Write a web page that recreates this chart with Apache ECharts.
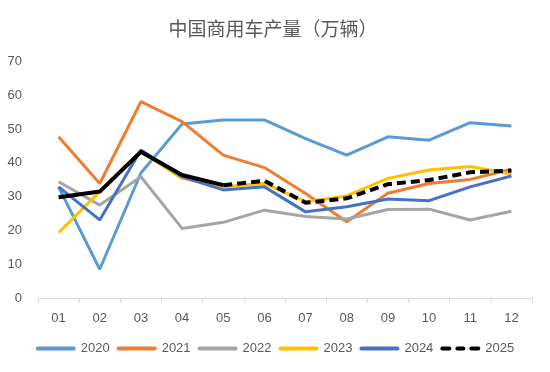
<!DOCTYPE html>
<html><head><meta charset="utf-8">
<script src="https://cdn.jsdelivr.net/npm/echarts@6/dist/echarts.min.js"></script>
<style>html,body{margin:0;padding:0;background:#fff}#c{width:550px;height:372px}</style>
</head><body><div id="c"></div>
<script>
var months = ['01','02','03','04','05','06','07','08','09','10','11','12'];
var s2020 = [32.9, 8.5, 37.0, 51.5, 52.7, 52.7, 47.2, 42.3, 47.7, 46.7, 51.9, 50.9];
var s2021 = [47.7, 33.9, 58.1, 52.2, 42.3, 38.6, 30.9, 22.6, 31.0, 33.9, 35.1, 38.1];
var s2022 = [34.4, 27.5, 35.9, 20.6, 22.4, 26.0, 24.1, 23.4, 26.2, 26.3, 23.1, 25.7];
var s2023 = [19.3, 31.5, 43.3, 35.4, 32.9, 33.9, 28.5, 30.2, 35.4, 37.9, 38.9, 36.6];
var s2024 = [32.9, 23.1, 43.8, 35.9, 32.0, 32.9, 25.5, 27.0, 29.3, 28.8, 32.9, 36.1];
var s2025Actual = [29.8, 31.5, 43.3, 36.4, 33.4, null, null, null, null, null, null, null];
var s2025Forecast = [null, null, null, null, 33.4, 34.7, 28.2, 29.5, 33.7, 34.9, 37.2, 37.7];
var yTicks = [0, 10, 20, 30, 40, 50, 60, 70];

function line(name, data, color, width, dashed) {
  return {
    name: name, type: 'line', data: data, showSymbol: false, symbol: 'none',
    lineStyle: {color: color, width: width, type: dashed ? [9, 5] : 'solid', cap: 'butt'},
    itemStyle: {color: color}, connectNulls: false, animation: false
  };
}
var solidIcon = 'path://M2,0h36a2,2 0 0 1 0,4h-36a2,2 0 0 1 0,-4z';
var dashIcon = 'path://M2,0h7a2,2 0 0 1 0,4h-7a2,2 0 0 1 0,-4z M17,0h6a2,2 0 0 1 0,4h-6a2,2 0 0 1 0,-4z M31,0h7a2,2 0 0 1 0,4h-7a2,2 0 0 1 0,-4z';
var chart = echarts.init(document.getElementById('c'));
chart.setOption({
  animation: false,
  title: {text: '中国商用车产量（万辆）', left: 268, top: 14, textAlign: 'center',
    textStyle: {fontFamily: 'Noto Sans CJK SC', fontSize: 19, fontWeight: 'normal', color: '#595959'}},
  grid: {left: 38, right: 18, top: 61.5, bottom: 74},
  legend: {
    bottom: 12, left: 'center', itemWidth: 40, itemHeight: 4, itemGap: 7,
    textStyle: {fontFamily: 'Liberation Sans', fontSize: 13, color: '#595959'},
    data: [
      {name: '2020', icon: solidIcon},
      {name: '2021', icon: solidIcon},
      {name: '2022', icon: solidIcon},
      {name: '2023', icon: solidIcon},
      {name: '2024', icon: solidIcon},
      {name: '2025', icon: dashIcon}
    ]
  },
  xAxis: {
    type: 'category', data: months, boundaryGap: true,
    axisLine: {lineStyle: {color: '#d9d9d9', width: 1}},
    axisTick: {show: true, length: 5, lineStyle: {color: '#d9d9d9'}},
    axisLabel: {color: '#595959', fontSize: 13, fontFamily: 'Liberation Sans', margin: 14}
  },
  yAxis: {
    type: 'value', min: yTicks[0], max: yTicks[yTicks.length - 1], interval: 10,
    axisLine: {show: false}, axisTick: {show: false}, splitLine: {show: false},
    axisLabel: {color: '#595959', fontSize: 13, fontFamily: 'Liberation Sans', margin: 16}
  },
  series: [
    line('2020', s2020, '#5B9BD5', 3),
    line('2021', s2021, '#ED7D31', 3),
    line('2022', s2022, '#A5A5A5', 3),
    line('2023', s2023, '#FFC000', 3),
    line('2024', s2024, '#4472C4', 3),
    line('2025', s2025Forecast, '#000000', 4, true),
    line('2025实际', s2025Actual, '#000000', 4)
  ]
});
</script></body></html>
